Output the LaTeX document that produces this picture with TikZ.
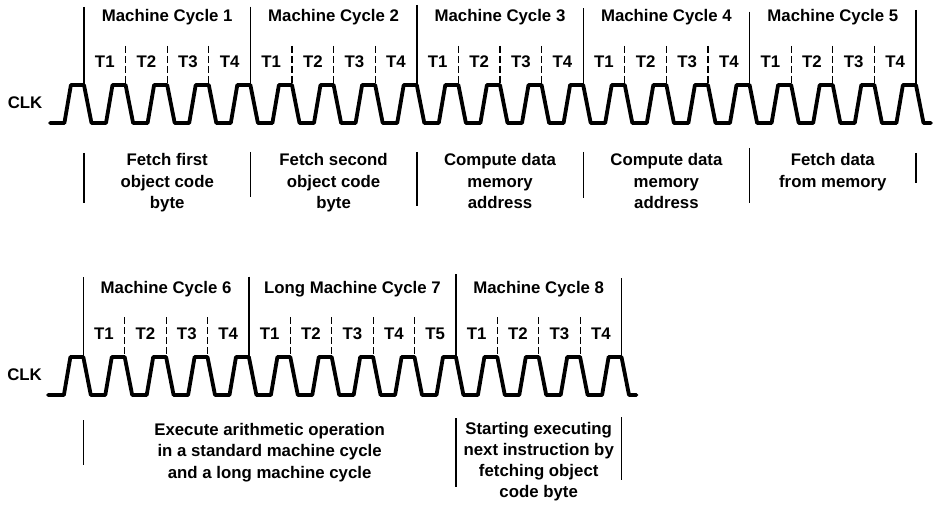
\documentclass[tikz,border=0pt]{standalone}
\usepackage{fontspec}
\setmainfont{Liberation Sans}
\begin{document}
\begin{tikzpicture}[x=1pt,y=-1pt,
  wave/.style={line width=3.8pt, line join=round, line cap=round},
  bar/.style={line width=1.4pt},
  tickline/.style={line width=1.1pt, dash pattern=on 7pt off 3pt},
  lbl/.style={font=\fontsize{16.8}{20}\selectfont\bfseries, inner sep=0pt, anchor=base},
  clk/.style={lbl, anchor=base east}]
\useasboundingbox[fill=white] (0,0) rectangle (934,505);

% ================= TOP ROW =================
\def\Bt{84}\def\Pt{41.6}
% clock waveform
\draw[wave] (50,123) -- ({\Bt-\Pt+22},123) -- ({\Bt-\Pt+28.5},85) -- (\Bt,85)
  \foreach \k in {0,...,19}{
    -- ({\Bt+\k*\Pt+7.5},123) -- ({\Bt+\k*\Pt+22},123)
    -- ({\Bt+\k*\Pt+28.5},85) -- ({\Bt+(\k+1)*\Pt},85)}
  -- ({\Bt+20*\Pt+7.5},123) -- ({\Bt+20*\Pt+15},123);
\node[clk] (clkA) at (42.5,108.3) {CLK};
% machine cycle boundaries
\foreach \k/\t in {0/7,4/6.7,8/5,12/8.3,16/11.7,20/10}
  \draw[bar] ({\Bt+\k*\Pt},\t) -- ({\Bt+\k*\Pt},84);
% T-state ticks
\foreach \k in {1,2,3,5,6,7,9,10,11,13,14,15,17,18,19}
  \draw[tickline] ({\Bt+\k*\Pt},46) -- ({\Bt+\k*\Pt},84);
% cycle titles
\foreach \c in {1,...,5}
  \node[lbl] (mcA\c) at ({\Bt+(4*\c-2)*\Pt},21.7) {Machine Cycle \c};
% T labels
\foreach \c in {0,...,4}
  \foreach \t in {1,...,4}
    \node[lbl] (tA\c\t) at ({\Bt+(4*\c+\t-0.5)*\Pt},67.7) {T\t};
% lower separators
\foreach \k/\a/\b in {0/153/203,4/152/197,8/152/206,12/152/198,16/148/203,20/153/183}
  \draw[bar] ({\Bt+\k*\Pt},\a) -- ({\Bt+\k*\Pt},\b);
% descriptions
\node[lbl] (d1a) at ({\Bt+2*\Pt},165.5) {Fetch first};
\node[lbl] (d1b) at ({\Bt+2*\Pt},187.3) {object code};
\node[lbl] (d1c) at ({\Bt+2*\Pt},209) {byte};
\node[lbl] (d2a) at ({\Bt+6*\Pt},165.5) {Fetch second};
\node[lbl] (d2b) at ({\Bt+6*\Pt},187.3) {object code};
\node[lbl] (d2c) at ({\Bt+6*\Pt},209) {byte};
\node[lbl] (d3a) at ({\Bt+10*\Pt},165.5) {Compute data};
\node[lbl] (d3b) at ({\Bt+10*\Pt},187.3) {memory};
\node[lbl] (d3c) at ({\Bt+10*\Pt},209) {address};
\node[lbl] (d4a) at ({\Bt+14*\Pt},165.5) {Compute data};
\node[lbl] (d4b) at ({\Bt+14*\Pt},187.3) {memory};
\node[lbl] (d4c) at ({\Bt+14*\Pt},209) {address};
\node[lbl] (d5a) at ({\Bt+18*\Pt},165.5) {Fetch data};
\node[lbl] (d5b) at ({\Bt+18*\Pt},187.3) {from memory};

% ================= BOTTOM ROW =================
\def\Bb{83.3}\def\Pb{41.4}
\draw[wave] (48,395) -- ({\Bb-\Pb+22},395) -- ({\Bb-\Pb+28.5},357) -- (\Bb,357)
  \foreach \k in {0,...,12}{
    -- ({\Bb+\k*\Pb+7.5},395) -- ({\Bb+\k*\Pb+22},395)
    -- ({\Bb+\k*\Pb+28.5},357) -- ({\Bb+(\k+1)*\Pb},357)}
  -- ({\Bb+13*\Pb+7.5},395) -- ({\Bb+13*\Pb+15},395);
\node[clk] (clkB) at (42,380) {CLK};
\foreach \k/\t in {0/277,4/276.7,9/274,13/278}
  \draw[bar] ({\Bb+\k*\Pb},\t) -- ({\Bb+\k*\Pb},356);
\foreach \k in {1,2,3,5,6,7,8,10,11,12}
  \draw[tickline] ({\Bb+\k*\Pb},317) -- ({\Bb+\k*\Pb},356);
\node[lbl] (mcB6) at ({\Bb+2*\Pb},293.5) {Machine Cycle 6};
\node[lbl] (mcB7) at ({\Bb+6.5*\Pb},293.5) {Long Machine Cycle 7};
\node[lbl] (mcB8) at ({\Bb+11*\Pb},293.5) {Machine Cycle 8};
\foreach \t in {1,...,4}
  \node[lbl] (tB6\t) at ({\Bb+(\t-0.5)*\Pb},339.7) {T\t};
\foreach \t in {1,...,5}
  \node[lbl] (tB7\t) at ({\Bb+(4+\t-0.5)*\Pb},339.7) {T\t};
\foreach \t in {1,...,4}
  \node[lbl] (tB8\t) at ({\Bb+(9+\t-0.5)*\Pb},339.7) {T\t};
\foreach \k/\a/\b in {0/420/465,9/418/487,13/417/480}
  \draw[bar] ({\Bb+\k*\Pb},\a) -- ({\Bb+\k*\Pb},\b);
\node[lbl] (e1a) at ({\Bb+4.5*\Pb},435) {Execute arithmetic operation};
\node[lbl] (e1b) at ({\Bb+4.5*\Pb},456.5) {in a standard machine cycle};
\node[lbl] (e1c) at ({\Bb+4.5*\Pb},478) {and a long machine cycle};
\node[lbl] (e2a) at ({\Bb+11*\Pb},434.5) {Starting executing};
\node[lbl] (e2b) at ({\Bb+11*\Pb},455.5) {next instruction by};
\node[lbl] (e2c) at ({\Bb+11*\Pb},476.5) {fetching object};
\node[lbl] (e2d) at ({\Bb+11*\Pb},497.5) {code byte};
\end{tikzpicture}
\end{document}
